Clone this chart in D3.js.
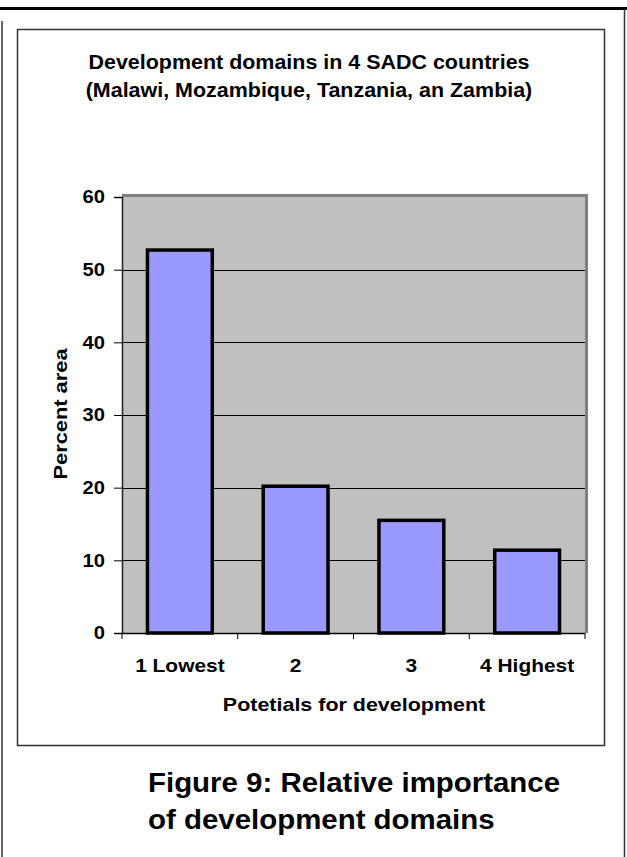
<!DOCTYPE html>
<html>
<head>
<meta charset="utf-8">
<script src="https://cdn.jsdelivr.net/npm/d3@7"></script>
<style>
html,body{margin:0;padding:0;background:#fff;}
svg{display:block;font-family:"Liberation Sans",Arial,sans-serif;}
</style>
</head>
<body>
<svg id="chart" width="627" height="857"></svg>
<script>
const categories = ["1 Lowest", "2", "3", "4 Highest"];
const values = [52.7, 20.2, 15.5, 11.4];
const yTicks = [0, 10, 20, 30, 40, 50, 60];
const titleLines = ["Development domains in 4 SADC countries", "(Malawi, Mozambique, Tanzania, an Zambia)"];
const yLabel = "Percent area";
const xLabel = "Potetials for development";
const captionLines = ["Figure 9: Relative importance", "of development domains"];

const svg = d3.select("#chart");

// widen text horizontally (the reference font is slightly wider than Arial)
function stretch(sel, k) {
  sel.each(function () {
    const len = this.getComputedTextLength();
    d3.select(this).attr("textLength", len * k).attr("lengthAdjust", "spacingAndGlyphs");
  });
}

// outer page frame
svg.append("line").attr("x1", 0).attr("x2", 627).attr("y1", 8.5).attr("y2", 8.5)
  .attr("stroke", "#000").attr("stroke-width", 3);
svg.append("line").attr("x1", 2).attr("x2", 2).attr("y1", 21).attr("y2", 857)
  .attr("stroke", "#333").attr("stroke-width", 1.5);
svg.append("line").attr("x1", 624.5).attr("x2", 624.5).attr("y1", 9).attr("y2", 857)
  .attr("stroke", "#333").attr("stroke-width", 1.5);

// chart box
svg.append("rect").attr("x", 17.5).attr("y", 29.5).attr("width", 587).attr("height", 716)
  .attr("fill", "#fff").attr("stroke", "#333").attr("stroke-width", 1.5);

// title
svg.append("g").selectAll("text").data(titleLines).join("text")
  .attr("x", 309).attr("y", (d, i) => 69 + i * 28)
  .attr("text-anchor", "middle").attr("font-size", 19.5).attr("font-weight", "bold")
  .text(d => d)
  .call(stretch, 1.1);

const plot = {left: 122, right: 585, top: 197, bottom: 633};

const x = d3.scaleBand().domain(categories).range([plot.left, plot.right]).paddingInner(0.44).paddingOuter(0.22);
const xb = d3.scaleBand().domain(categories).range([plot.left, plot.right]);
const y = d3.scaleLinear().domain([0, 60]).range([plot.bottom, plot.top]);

// plot background
svg.append("rect").attr("x", plot.left).attr("y", plot.top)
  .attr("width", plot.right - plot.left).attr("height", plot.bottom - plot.top)
  .attr("fill", "#c0c0c0");
// gray border top/right
svg.append("path")
  .attr("d", `M${plot.left},${plot.top - 1.5} H${plot.right + 1.5} V${plot.bottom}`)
  .attr("fill", "none").attr("stroke", "#808080").attr("stroke-width", 3);

// gridlines
svg.append("g").selectAll("line").data(yTicks.filter(t => t > 0 && t < 60)).join("line")
  .attr("x1", plot.left).attr("x2", plot.right)
  .attr("y1", d => Math.round(y(d)) + 0.5).attr("y2", d => Math.round(y(d)) + 0.5)
  .attr("stroke", "#000").attr("stroke-width", 1);

// bars
svg.append("g").selectAll("rect").data(values).join("rect")
  .attr("x", (d, i) => x(categories[i]))
  .attr("y", d => y(d))
  .attr("width", x.bandwidth())
  .attr("height", d => y(0) - y(d))
  .attr("fill", "#9999ff").attr("stroke", "#000").attr("stroke-width", 3.5);

// y axis
const yAxis = svg.append("g").attr("transform", `translate(${plot.left},0)`)
  .call(d3.axisLeft(y).tickValues(yTicks).tickSize(8).tickPadding(9));
yAxis.select(".domain").attr("stroke", "#222").attr("stroke-width", 1.5);
yAxis.selectAll(".tick line").attr("stroke", "#000");
yAxis.selectAll("text").attr("font-size", 18).attr("font-weight", "bold")
  .attr("font-family", "Liberation Sans, Arial, sans-serif").attr("fill", "#000")
  .call(stretch, 1.12);

// x axis
const xAxis = svg.append("g").attr("transform", `translate(0,${plot.bottom})`)
  .call(d3.axisBottom(xb).tickSize(0).tickPadding(0));
xAxis.select(".domain").attr("stroke", "#000").attr("stroke-width", 1.5)
  .attr("d", `M${plot.left},0.5H${plot.right}`);
xAxis.selectAll(".tick text").attr("font-size", 18.5).attr("font-weight", "bold")
  .attr("font-family", "Liberation Sans, Arial, sans-serif").attr("fill", "#000")
  .attr("dy", 0).attr("y", 39)
  .call(stretch, 1.13);
// category boundary ticks
svg.append("g").selectAll("line").data(categories.concat(["end"])).join("line")
  .attr("x1", (d, i) => i < categories.length ? xb(d) : plot.right)
  .attr("x2", (d, i) => i < categories.length ? xb(d) : plot.right)
  .attr("y1", plot.bottom).attr("y2", plot.bottom + 6)
  .attr("stroke", "#000").attr("stroke-width", 1);

// axis titles
svg.append("text").attr("transform", `translate(67,${(plot.top + plot.bottom) / 2 - 1}) rotate(-90)`)
  .attr("text-anchor", "middle").attr("font-size", 18.5).attr("font-weight", "bold").text(yLabel)
  .call(stretch, 1.18);
svg.append("text").attr("x", 354).attr("y", 711)
  .attr("text-anchor", "middle").attr("font-size", 18.5).attr("font-weight", "bold").text(xLabel)
  .call(stretch, 1.16);

// caption
svg.append("g").selectAll("text").data(captionLines).join("text")
  .attr("x", 148).attr("y", (d, i) => 792 + i * 37)
  .attr("font-size", 27.5).attr("font-weight", "bold")
  .text(d => d)
  .call(stretch, 1.07);
</script>
</body>
</html>
